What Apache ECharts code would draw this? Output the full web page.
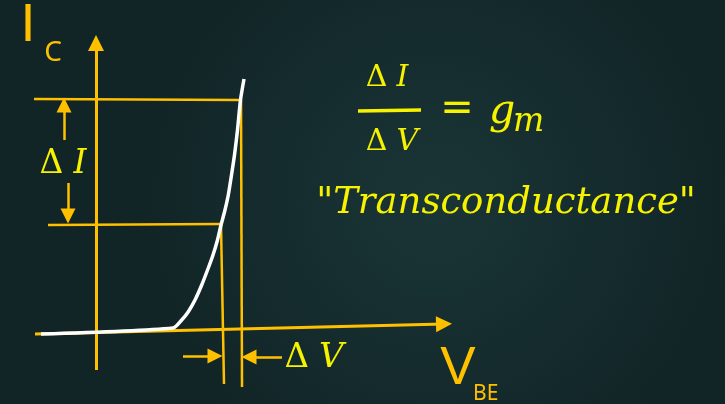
<!DOCTYPE html>
<html>
<head>
<meta charset="utf-8">
<script src="https://cdn.jsdelivr.net/npm/echarts@6/dist/echarts.min.js"></script>
<style>
  html, body { margin: 0; padding: 0; }
  #main { width: 725px; height: 404px; }
</style>
</head>
<body>
<div id="main"></div>
<script>
// 曲线数据 (V_BE -> I_C), 画面坐标单位
var curveV = [41, 173, 181.7, 188.3, 195, 201.7, 208.3, 213, 217.5, 221, 224.5, 228.3, 231.5, 234.5, 237.5, 240.5, 244];
var curveI = [334, 328, 320, 311.7, 300, 285, 268, 255, 240, 225, 212, 195, 175, 155, 130, 100, 79];

// 坐标轴 (带箭头)
var axisLines = [
    [[96, 370], [96, 43]],
    [[35, 334], [444, 324]]
];
// 辅助线
var guideLines = [
    [[34, 99], [241, 100]],
    [[241, 100], [242, 387]],
    [[48, 225], [221, 224]],
    [[221, 225], [224, 384]]
];
// ΔI / ΔV 标注箭头
var dimArrows = [
    [[64, 140], [64, 105]],
    [[68, 183], [68, 216]],
    [[183, 356], [215, 356]],
    [[282, 357], [249, 357]]
];

var gold = '#FFC000';
var yellow = '#F6F200';

function toLines(arr) {
    return arr.map(function (p) { return { coords: p }; });
}

function deltaText(letter, size) {
    return {
        text: '{d|Δ}{i|' + letter + '}', align: 'center', verticalAlign: 'middle',
        rich: {
            d: { font: size + 'px "DejaVu Serif"', fill: yellow },
            i: { font: 'italic ' + size + 'px "DejaVu Serif"', fill: yellow, padding: [0, 0, 0, Math.round(size * 0.3)] }
        }
    };
}

var myChart = echarts.init(document.getElementById('main'));
var option = {
    animation: false,
    backgroundColor: {
        type: 'radial', x: 0.6, y: 0.5, r: 0.75,
        colorStops: [
            { offset: 0, color: '#1A3536' },
            { offset: 1, color: '#112426' }
        ]
    },
    grid: { left: 0, right: 0, top: 0, bottom: 0 },
    xAxis: { type: 'value', min: 0, max: 725, show: false },
    yAxis: { type: 'value', min: 0, max: 404, inverse: true, show: false },
    series: [
        {
            type: 'lines',
            coordinateSystem: 'cartesian2d',
            symbol: ['none', 'triangle'],
            symbolSize: 16,
            lineStyle: { color: gold, width: 3, opacity: 1 },
            data: toLines(axisLines)
        },
        {
            type: 'lines',
            coordinateSystem: 'cartesian2d',
            symbol: 'none',
            lineStyle: { color: gold, width: 2.5, opacity: 1 },
            data: toLines(guideLines)
        },
        {
            type: 'lines',
            coordinateSystem: 'cartesian2d',
            symbol: ['none', 'triangle'],
            symbolSize: 15,
            lineStyle: { color: gold, width: 2.5, opacity: 1 },
            data: toLines(dimArrows)
        },
        {
            type: 'line',
            smooth: 0.25,
            showSymbol: false,
            lineStyle: { color: '#FFFFFF', width: 3.5 },
            data: curveV.map(function (v, i) { return [v, curveI[i]]; })
        },
        {
            // 分数线
            type: 'lines',
            coordinateSystem: 'cartesian2d',
            symbol: 'none',
            lineStyle: { color: yellow, width: 3.5, opacity: 1 },
            data: toLines([[[358, 111], [421, 110]]])
        }
    ],
    graphic: [
        { type: 'text', x: 28, y: 26, style: { text: 'I', font: '54px "Liberation Sans"', fill: gold, align: 'center', verticalAlign: 'middle' } },
        { type: 'text', x: 53, y: 53, style: { text: 'C', font: '28px "Noto Sans"', fill: gold, align: 'center', verticalAlign: 'middle' } },
        { type: 'text', x: 458, y: 369, style: { text: 'V', font: '53px "Liberation Sans"', fill: gold, align: 'center', verticalAlign: 'middle' } },
        { type: 'text', x: 473, y: 394, style: { text: 'BE', font: '21px "Noto Sans"', fill: gold, align: 'left', verticalAlign: 'middle' } },
        { type: 'text', x: 63, y: 164, style: deltaText('I', 33) },
        { type: 'text', x: 314, y: 358, style: deltaText('V', 34) },
        { type: 'text', x: 387, y: 78, style: deltaText('I', 30) },
        { type: 'text', x: 392, y: 142, style: deltaText('V', 30) },
        { type: 'text', x: 457, y: 110, style: { text: '=', font: '40px "DejaVu Sans"', fill: yellow, align: 'center', verticalAlign: 'middle' } },
        { type: 'text', x: 489, y: 112, style: { text: 'g', font: 'italic 41px "DejaVu Serif"', fill: yellow, align: 'left', verticalAlign: 'middle' } },
        { type: 'text', x: 513, y: 122, style: { text: 'm', font: 'italic 33px "DejaVu Serif"', fill: yellow, align: 'left', verticalAlign: 'middle' } },
        { type: 'text', x: 506, y: 203, style: { text: '"Transconductance"', font: 'italic 37px "DejaVu Serif"', fill: yellow, align: 'center', verticalAlign: 'middle' } }
    ]
};
myChart.setOption(option);
</script>
</body>
</html>
